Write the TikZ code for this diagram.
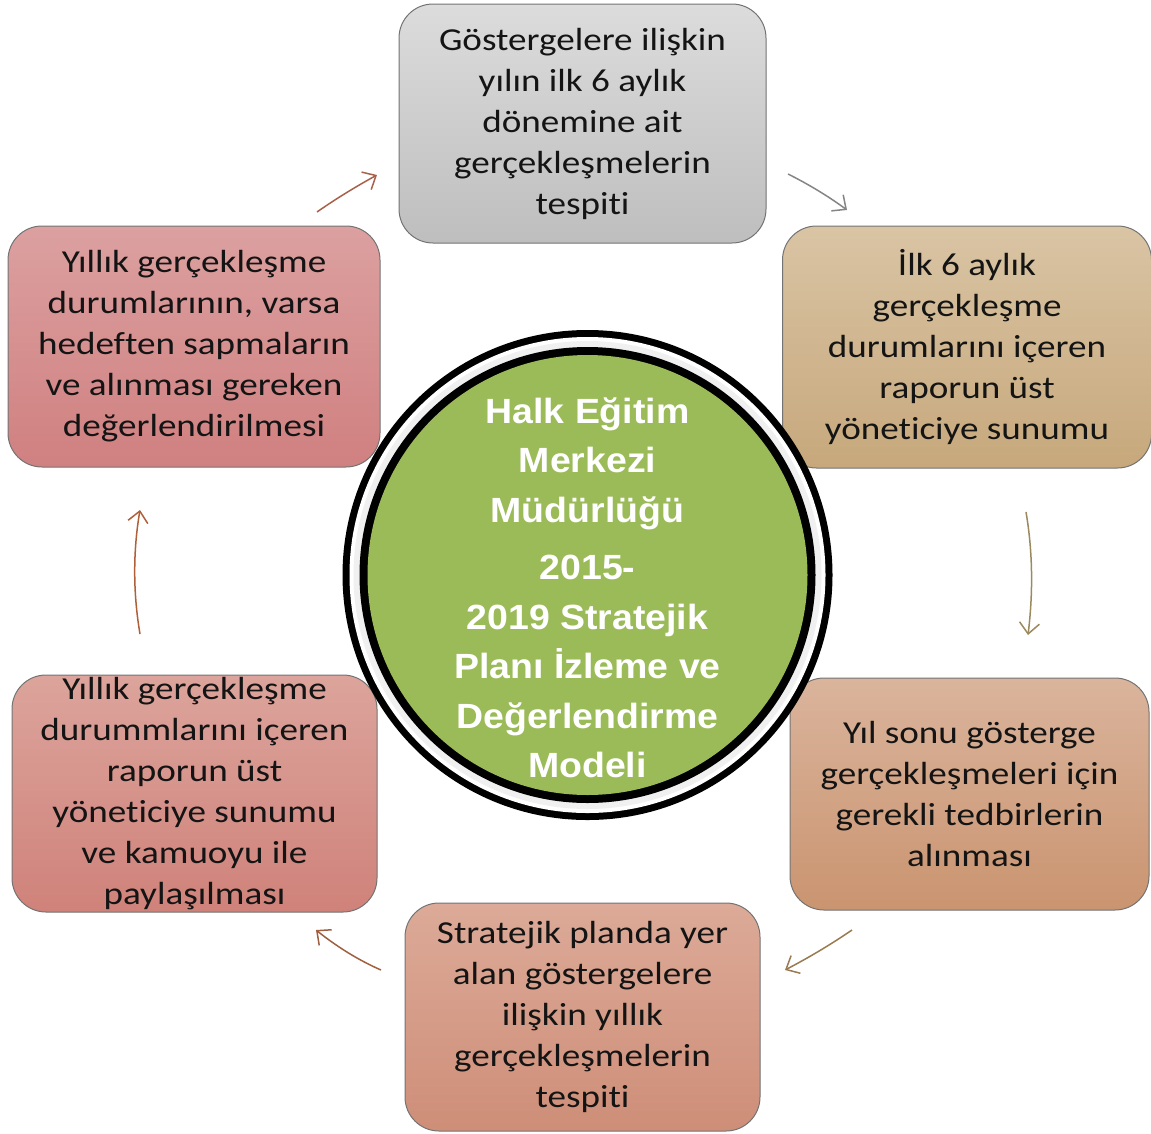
\documentclass[tikz,border=0pt]{standalone}
\usepackage{fontspec}
\setmainfont{Carlito}[FakeStretch=1.16, Ligatures=NoCommon]
\newfontfamily\centerfont{Liberation Sans}[FakeStretch=1.07]
\usetikzlibrary{arrows.meta}
\definecolor{ringgreen}{HTML}{9BBB59}
\definecolor{aOne}{HTML}{A8604A}
\definecolor{aTwo}{HTML}{858585}
\definecolor{aThree}{HTML}{9A8A5E}
\definecolor{aFour}{HTML}{9A7A50}
\definecolor{aFive}{HTML}{A06040}
\definecolor{aSix}{HTML}{B06038}
\tikzset{
  stepbox/.style={draw=black!55, line width=1pt, rounded corners=34pt, inner sep=0pt,
    align=center, font=\fontsize{32}{41}\selectfont, text=black!92},
  cycarrow/.style={line width=1.5pt, -{Straight Barb[length=11pt,width=20pt,line width=1.5pt]}},
}
\begin{document}
\begin{tikzpicture}[x=1pt,y=-1pt]
\useasboundingbox (0,0) rectangle (1151,1133);
% boxes
\node[stepbox, minimum width=367pt, minimum height=239pt, top color={rgb,255:red,220;green,220;blue,220}, bottom color={rgb,255:red,190;green,190;blue,190}] (top) at (582.5,123.5)
  {Göstergelere ilişkin\\yılın ilk 6 aylık\\dönemine ait\\gerçekleşmelerin\\tespiti};
\node[stepbox, minimum width=369pt, minimum height=242pt, top color={rgb,255:red,217;green,196;blue,164}, bottom color={rgb,255:red,199;green,168;blue,124}] (tr) at (967,347)
  {İlk 6 aylık\\gerçekleşme\\durumlarını içeren\\raporun üst\\yöneticiye sunumu};
\node[stepbox, minimum width=359pt, minimum height=232pt, top color={rgb,255:red,218;green,180;blue,156}, bottom color={rgb,255:red,202;green,148;blue,112}] (br) at (969.5,794)
  {Yıl sonu gösterge\\gerçekleşmeleri için\\gerekli tedbirlerin\\alınması};
\node[stepbox, minimum width=355pt, minimum height=228pt, top color={rgb,255:red,220;green,170;blue,152}, bottom color={rgb,255:red,206;green,142;blue,120}] (bot) at (582.5,1017)
  {Stratejik planda yer\\alan göstergelere\\ilişkin yıllık\\gerçekleşmelerin\\tespiti};
\node[stepbox, minimum width=365pt, minimum height=237pt, top color={rgb,255:red,220;green,164;blue,156}, bottom color={rgb,255:red,207;green,130;blue,122}] (bl) at (194.5,793.5)
  {Yıllık gerçekleşme\\durummlarını içeren\\raporun üst\\yöneticiye sunumu\\ve kamuoyu ile\\paylaşılması};
\node[stepbox, minimum width=372pt, minimum height=241pt, top color={rgb,255:red,220;green,160;blue,160}, bottom color={rgb,255:red,208;green,128;blue,128}] (tl) at (194,346.5)
  {Yıllık gerçekleşme\\durumlarının, varsa\\hedeften sapmaların\\ve alınması gereken\\değerlendirilmesi};
% center circle
\coordinate (c) at (587.5,575);
\fill[black] (c) circle (245);
\fill[white] (c) circle (238);
\fill[black!6] (c) circle (234);
\fill[black] (c) circle (228);
\fill[ringgreen] (c) circle (220);
\node[align=center, text=white, font=\centerfont\bfseries\fontsize{35}{49.5}\selectfont] (centre) at (587.5,588)
  {Halk Eğitim\\Merkezi\\Müdürlüğü\\[8pt]2015-\\2019 Stratejik\\Planı İzleme ve\\Değerlendirme\\Modeli};
% arrows
\coordinate (a1s) at (317,212); \coordinate (a1e) at (377,175);
\coordinate (a2s) at (788,174); \coordinate (a2e) at (847,210);
\coordinate (a3s) at (1026,512); \coordinate (a3e) at (1028,635);
\coordinate (a4s) at (852,930); \coordinate (a4e) at (785,970);
\coordinate (a5s) at (381,970); \coordinate (a5e) at (316,930);
\coordinate (a6s) at (140,634); \coordinate (a6e) at (140,510);
\draw[cycarrow, aOne] (a1s) .. controls (337,198) and (357,186) .. (a1e);
\draw[cycarrow, aTwo] (a2s) .. controls (808,184) and (828,196) .. (a2e);
\draw[cycarrow, aThree] (a3s) .. controls (1033,553) and (1033,594) .. (a3e);
\draw[cycarrow, aFour] (a4s) .. controls (830,945) and (808,958) .. (a4e);
\draw[cycarrow, aFive] (a5s) .. controls (358,960) and (336,946) .. (a5e);
\draw[cycarrow, aSix] (a6s) .. controls (133,593) and (133,551) .. (a6e);
\end{tikzpicture}
\end{document}
